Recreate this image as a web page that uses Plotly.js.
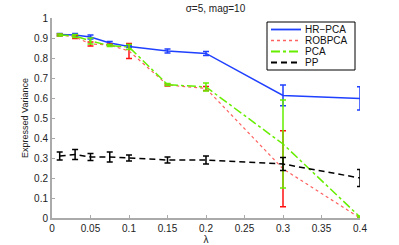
<!DOCTYPE html>
<html><head><meta charset="utf-8">
<script src="https://cdn.plot.ly/plotly-3.0.1.min.js"></script>
<style>html,body{margin:0;padding:0;background:#fff}#c{width:399px;height:245px}</style>
</head><body><div id="c"></div>
<script>
var lambda = [0.01, 0.03, 0.05, 0.075, 0.1, 0.15, 0.2, 0.3, 0.4];
var hrpca = [0.918, 0.915, 0.905, 0.875, 0.857, 0.835, 0.823, 0.613, 0.598];
var hrpcaErr = [0.005, 0.008, 0.01, 0.008, 0.005, 0.01, 0.01, 0.052, 0.058];
var robpca = [0.915, 0.905, 0.87, 0.865, 0.835, 0.665, 0.648, 0.246, 0.0];
var robpcaErr = [0.005, 0.008, 0.01, 0.005, 0.037, 0.005, 0.01, 0.19, 0.0];
var pca = [0.915, 0.91, 0.885, 0.862, 0.855, 0.667, 0.655, 0.37, 0.005];
var pcaErr = [0.005, 0.008, 0.015, 0.005, 0.012, 0.005, 0.02, 0.22, 0.005];
var pp = [0.31, 0.318, 0.305, 0.305, 0.30, 0.29, 0.29, 0.27, 0.2];
var ppErr = [0.02, 0.025, 0.018, 0.025, 0.015, 0.015, 0.02, 0.032, 0.043];
var seriesNames = ['HR\u2212PCA', 'ROBPCA', 'PCA', 'PP'];
var xTicks = [0, 0.05, 0.1, 0.15, 0.2, 0.25, 0.3, 0.35, 0.4];
var yTicks = [0, 0.1, 0.2, 0.3, 0.4, 0.5, 0.6, 0.7, 0.8, 0.9, 1];

var colors = ['#2040ff', '#ff6060', '#66ee00', '#000000'];
var ecolors = ['#2040ff', '#ff1010', '#66ee00', '#000000'];
var dashes = ['solid', 'dot', 'dashdot', '6px,4px'];
var widths = [1.5, 1.2, 1.5, 1.5];
var ys = [hrpca, robpca, pca, pp];
var errs = [hrpcaErr, robpcaErr, pcaErr, ppErr];

var data = ys.map(function (y, i) {
  return {x: lambda, y: y, name: seriesNames[i], type: 'scatter', mode: 'lines', showlegend: false,
    line: {color: colors[i], width: widths[i], dash: dashes[i]},
    error_y: {type: 'data', array: errs[i], visible: true, color: ecolors[i], thickness: 1.5, width: 3}};
});

// manual compact legend (paper coords): plot spans px 52..360 horizontally, 18..218 vertically
function px(x) { return (x - 52) / 308; }
function py(y) { return (218 - y) / 200; }
var shapes = [{type: 'rect', xref: 'paper', yref: 'paper', x0: px(267), x1: px(355), y0: py(22), y1: py(70),
  line: {color: '#000', width: 1}, fillcolor: '#fff', layer: 'above'}];
var annotations = [];
var rowY = [29.5, 40.5, 51.5, 62.5];
seriesNames.forEach(function (n, i) {
  shapes.push({type: 'line', xref: 'paper', yref: 'paper', x0: px(271), x1: px(301), y0: py(rowY[i]), y1: py(rowY[i]),
    line: {color: colors[i], width: widths[i] + 0.3, dash: dashes[i]}, layer: 'above'});
  annotations.push({xref: 'paper', yref: 'paper', x: px(303), y: py(rowY[i]), xanchor: 'left', yanchor: 'middle',
    text: n, showarrow: false, font: {size: 10, color: '#111'}});
});

var ax = {showline: true, linecolor: '#aaaaaa', linewidth: 2, ticks: 'inside', ticklen: 3, tickcolor: '#aaaaaa',
  showgrid: false, zeroline: false, mirror: false, tickfont: {size: 10, color: '#222'}};
var layout = {
  width: 399, height: 245, margin: {l: 52, r: 39, t: 18, b: 27},
  paper_bgcolor: '#fff', plot_bgcolor: '#fff',
  font: {family: 'Liberation Sans, Arial, sans-serif', size: 10, color: '#222'},
  title: {text: '\u03c3=5, mag=10', font: {size: 10}, x: 0.54, xanchor: 'center', y: 0.965, yanchor: 'middle'},
  xaxis: Object.assign({}, ax, {range: [0, 0.4], tickvals: xTicks, ticktext: xTicks.map(String),
    title: {text: '\u03bb', font: {size: 10}, standoff: 0}}),
  yaxis: Object.assign({}, ax, {range: [0, 1], tickvals: yTicks, ticktext: yTicks.map(String),
    title: {text: 'Expressed Variance', font: {size: 9}, standoff: 4}}),
  showlegend: false,
  shapes: shapes,
  annotations: annotations
};
Plotly.newPlot('c', data, layout, {staticPlot: true});
</script></body></html>
